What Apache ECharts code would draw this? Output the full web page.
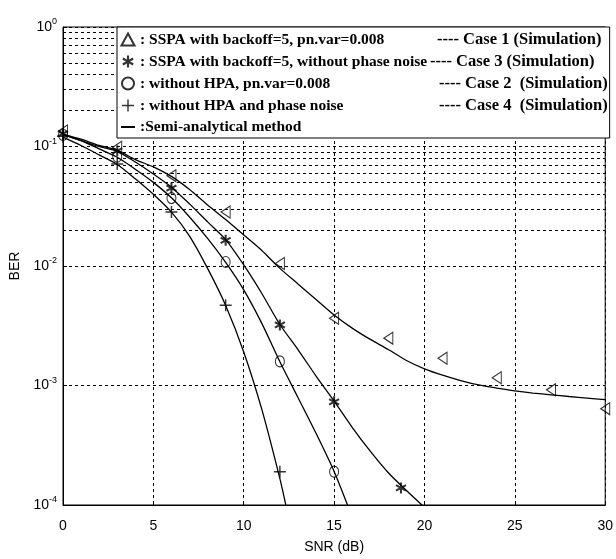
<!DOCTYPE html>
<html><head><meta charset="utf-8">
<script src="https://cdn.jsdelivr.net/npm/echarts@6/dist/echarts.min.js"></script>
<style>html,body{margin:0;padding:0;background:#fff}#c{width:616px;height:559px}</style>
</head><body><div id="c"></div>
<script>
// ---- Semi-analytical curves ----
const snrA = [0,1,2,3,4,5,6,7,8,9,10,11,12,13,14,15,16,17,18,19,20,21,22,23,24,25,26,27,28,29,30];
const berA = [0.126,0.115,0.102,0.0933,0.0776,0.0676,0.0562,0.0437,0.0324,0.0245,0.0182,0.0135,0.00955,0.00708,0.00525,0.00389,0.00302,0.00243,0.00200,0.00162,0.00138,0.00122,0.00110,0.00101,0.000951,0.000902,0.000865,0.000836,0.000809,0.000785,0.000762];
const snrB = [0,1,2,3,4,5,6,7,8,9,10,11,12,13,14,15,16,17,18,19,20];
const berB = [0.126,0.112,0.100,0.0912,0.0741,0.0589,0.0457,0.0331,0.0234,0.0166,0.0102,0.00589,0.00324,0.00200,0.00120,0.000741,0.000447,0.000282,0.000186,0.000132,0.0000955];
const snrC = [0,1,2,3,4,5,6,7,8,9,10,11,12,13,14,15,16];
const berC = [0.126,0.112,0.0955,0.0813,0.0646,0.0501,0.0372,0.0257,0.0170,0.0107,0.00631,0.00331,0.00158,0.000794,0.000398,0.000191,0.0000794];
const snrD = [0,1,2,3,4,5,6,7,8,9,10,11,12,12.4];
const berD = [0.120,0.102,0.0851,0.0708,0.0537,0.0398,0.0282,0.0178,0.00955,0.00468,0.00191,0.000631,0.000166,0.0000891];

// ---- Simulation markers ----
const simSnr1 = [0,3,6,9,12,15,18,21,24,27,30];
const simBer1 = [0.135,0.0985,0.057,0.0283,0.0105,0.00365,0.00249,0.00169,0.00116,0.00092,0.00064];
const simSnr3 = [0,3,6,9,12,15,18.7];
const simBer3 = [0.128,0.092,0.0449,0.0164,0.00321,0.00073,0.000139];
const simSnr2 = [0,3,6,9,12,15];
const simBer2 = [0.125,0.082,0.037,0.0108,0.00159,0.00019];
const simSnr4 = [0,3,6,9,12];
const simBer4 = [0.122,0.0715,0.0283,0.0047,0.00019];

// ---- Axis ticks ----
const xTicks = [0,5,10,15,20,25,30];
const yDecades = [-4,-3,-2,-1];
const yMinorMult = [2,3,4,5,6,7,8,9];

// ---- Legend text ----
const legendNames = ['c1','c3','c2','c4','Semi-analytical method'];
const legendLeft = [': SSPA with backoff=5, pn.var=0.008', ': SSPA with backoff=5, without phase noise', ': without HPA, pn.var=0.008', ': without HPA and phase noise', ':Semi-analytical method'];
const legendRight = ['---- Case 1 (Simulation)', '---- Case 3 (Simulation)', '---- Case 2  (Simulation)', '---- Case 4  (Simulation)', ''];
const legendColWidth = [297, 290, 299, 299, 0];

const pairs = (xs, ys) => xs.map((x, i) => [x, ys[i]]);
const minorLines = [];
yDecades.forEach(e => yMinorMult.forEach(m => minorLines.push({ yAxis: m * Math.pow(10, e) })));

const dash = [3, 3];
const serifFont = '"Liberation Serif", "Times New Roman", serif';
const sansFont = '"Liberation Sans", Arial, sans-serif';

const STAR = 'path://M-0.9,5 L0.9,5 L0.9,-5 L-0.9,-5 Z M3.88,3.279 L4.78,1.721 L-3.88,-3.279 L-4.78,-1.721 Z M-4.78,1.721 L-3.88,3.279 L4.78,-1.721 L3.88,-3.279 Z';
const PLUS = 'path://M-0.6,-5 L0.6,-5 L0.6,5 L-0.6,5 Z M-5,-0.6 L5,-0.6 L5,0.6 L-5,0.6 Z';
const TRI_LEFT = 'path://M10,0 L10,12 L0,6 Z';
const TRI_UP = 'path://M6,0 L12,11 L0,11 Z';

function curve(xs, ys, extra) {
  return Object.assign({
    name: 'Semi-analytical method', type: 'line', data: pairs(xs, ys),
    symbol: 'none', smooth: 0.25, lineStyle: { color: '#000', width: 1.3 },
    itemStyle: { color: '#000' }, z: 3
  }, extra || {});
}
const hollow = { color: 'rgba(0,0,0,0)', borderColor: '#000', borderWidth: 1.1 };

const rich = {};
legendColWidth.forEach((w, i) => {
  rich['a' + i] = { fontFamily: serifFont, fontWeight: 'bold', fontSize: 15.5, lineHeight: 16, width: w || undefined, color: '#000' };
});
rich.b = { fontFamily: serifFont, fontWeight: 'bold', fontSize: 16.5, lineHeight: 16, color: '#000' };

const chart = echarts.init(document.getElementById('c'), null, { renderer: 'canvas' });
chart.setOption({
  animation: false,
  backgroundColor: '#fff',
  grid: { left: 63, right: 8, top: 27, bottom: 52, show: true, borderColor: '#000', borderWidth: 1, backgroundColor: 'transparent' },
  xAxis: {
    type: 'value', min: 0, max: 30, interval: 5,
    name: 'SNR (dB)', nameLocation: 'middle', nameGap: 35,
    nameTextStyle: { fontFamily: sansFont, fontSize: 14, color: '#000' },
    axisLine: { lineStyle: { color: '#000', width: 1 } },
    axisTick: { inside: true, length: 4, lineStyle: { color: '#000' } },
    axisLabel: { fontFamily: sansFont, fontSize: 14, color: '#000', margin: 14,
      formatter: v => xTicks.includes(v) ? String(v) : '' },
    splitLine: { show: true, lineStyle: { color: '#000', type: dash, width: 1 } }
  },
  yAxis: {
    type: 'log', logBase: 10, min: 1e-4, max: 1,
    name: 'BER', nameLocation: 'middle', nameGap: 39,
    nameTextStyle: { fontFamily: sansFont, fontSize: 14, color: '#000' },
    axisLine: { lineStyle: { color: '#000', width: 1 } },
    axisTick: { inside: true, length: 4, lineStyle: { color: '#000' } },
    axisLabel: {
      fontFamily: sansFont, color: '#000', margin: 6,
      formatter: v => '{b|10}{s|' + Math.round(Math.log10(v)) + '}',
      rich: {
        b: { fontFamily: sansFont, fontSize: 14, color: '#000' },
        s: { fontFamily: sansFont, fontSize: 9, color: '#000', verticalAlign: 'bottom', padding: [0, 0, 10, 0] }
      }
    },
    splitLine: { show: true, lineStyle: { color: '#000', type: dash, width: 1 } }
  },
  legend: {
    orient: 'vertical', left: 117, top: 27,
    backgroundColor: '#fff', borderColor: '#000', borderWidth: 1, borderRadius: 0,
    padding: [4, 2, 3, 3], itemGap: 5, itemWidth: 14, itemHeight: 12,
    data: [
      { name: 'c1', icon: TRI_UP },
      { name: 'c3' },
      { name: 'c2' },
      { name: 'c4' },
      { name: 'Semi-analytical method', itemStyle: { opacity: 0 } }
    ],
    formatter: name => {
      const i = legendNames.indexOf(name);
      return '{a' + i + '|' + legendLeft[i] + '}' + (legendRight[i] ? '{b|' + legendRight[i] + '}' : '');
    },
    textStyle: { rich: rich },
    selectedMode: false
  },
  series: [
    curve(snrA, berA, {
      markLine: { silent: true, symbol: 'none', label: { show: false },
        lineStyle: { color: '#000', type: dash, width: 1 }, data: minorLines, z: 1 }
    }),
    curve(snrB, berB),
    curve(snrC, berC),
    curve(snrD, berD),
    { name: 'c1', type: 'scatter', data: pairs(simSnr1, simBer1), symbol: TRI_LEFT, symbolSize: [9, 12], itemStyle: hollow, z: 4 },
    { name: 'c3', type: 'scatter', data: pairs(simSnr3, simBer3), symbol: STAR, symbolSize: 11, itemStyle: { color: '#000' }, z: 4 },
    { name: 'c2', type: 'scatter', data: pairs(simSnr2, simBer2), symbol: 'circle', symbolSize: [9, 11], itemStyle: hollow, z: 4 },
    { name: 'c4', type: 'scatter', data: pairs(simSnr4, simBer4), symbol: PLUS, symbolSize: 12, itemStyle: { color: '#000' }, z: 4 }
  ]
});
</script></body></html>
